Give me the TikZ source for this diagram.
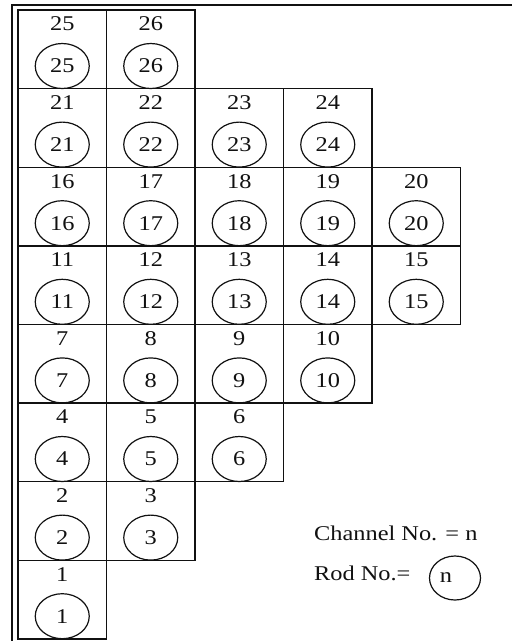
\documentclass[tikz,border=0pt]{standalone}
\usepackage{fontspec}
\setmainfont[FakeStretch=1.16]{Liberation Serif}
\usetikzlibrary{shapes.geometric,positioning,calc}
\definecolor{paper}{HTML}{FFFFFF}
\definecolor{ink}{HTML}{111111}
\newcommand{\CellW}{88.5}
\newcommand{\CellH}{78.6}
\newcommand{\GridX}{18}
\newcommand{\GridY}{10}
\newcommand{\LabelDrop}{14pt}
\newcommand{\RodDrop}{56pt}

\begin{document}
\begin{tikzpicture}[
    x=1pt, y=-1pt, ink,
    font=\fontsize{21}{23}\selectfont,
    frame/.style={draw=ink, line width=2.2pt},
    cell/.style={draw=ink, line width=1.4pt, rectangle, minimum width=\CellW pt, minimum height=\CellH pt, inner sep=0pt, outer sep=0pt},
    chan/.style={inner sep=0pt},
    rod/.style={draw=ink, line width=1.2pt, ellipse, minimum width=54pt, minimum height=45pt, inner sep=0pt},
  ]
\useasboundingbox (0,0) rectangle (512,641);

% --- Outer frame, cut by the page on the right and at the bottom ----------------------
\draw[frame] (12,650) -- (12,5) -- (520,5);

% --- The core map: one cell per channel, the rod drawn inside it ----------------------
\foreach \r/\first/\count in {0/25/2, 1/21/4, 2/16/5, 3/11/5, 4/7/4, 5/4/3, 6/2/2, 7/1/1} {
  \foreach \c [evaluate=\c as \n using int(\first+\c-1)] in {1,...,\count} {
    \node[cell] (cell\n) at (\GridX+\c*\CellW-0.5*\CellW, \GridY+\r*\CellH+0.5*\CellH) {};
    \node[chan] (ch\n) at ([yshift=-\LabelDrop]cell\n.north) {\n};
    \node[rod] (rod\n) at ([yshift=-\RodDrop]cell\n.north) {\n};
  }
}

% --- Key ----------------------------------------------------------------------------
\node[anchor=west, inner sep=0pt] (keychan) at (314,533) {Channel No. = n};
\node[anchor=west, inner sep=0pt] (keyrodtext) at (314,573) {Rod No.=};
\node[rod, minimum width=51pt, minimum height=44pt] (keyrod) at (455,578) {};
\node[inner sep=0pt] (keyn) at ([xshift=-9pt]keyrod.center) {n};

\end{tikzpicture}
\end{document}
